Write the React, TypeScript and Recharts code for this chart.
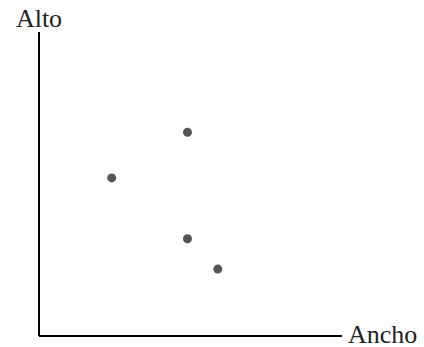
import { ScatterChart, Scatter, XAxis, YAxis, Label } from 'recharts'

// ancho / alto of each point
const anchoValues = [2.4, 4.9, 4.9, 5.9]
const altoValues = [5.2, 6.7, 3.2, 2.2]
const xLabel = 'Ancho'
const yLabel = 'Alto'

const points = anchoValues.map((ancho, i) => ({ ancho, alto: altoValues[i] }))

const fontFamily = '"Liberation Serif", "Times New Roman", serif'

export default function App() {
  return (
    <div style={{ position: 'absolute', left: 0, top: 0, width: 424, height: 347, background: '#fff' }}>
      <ScatterChart width={424} height={347} margin={{ top: 32, right: 82, bottom: 10, left: 38 }}>
        <XAxis
          type="number"
          dataKey="ancho"
          domain={[0, 10]}
          height={1}
          tick={false}
          tickLine={false}
          axisLine={{ stroke: '#000', strokeWidth: 2 }}
        >
          <Label
            content={({ viewBox }: any) => (
              <text
                x={viewBox.x + viewBox.width + 6}
                y={viewBox.y + 7}
                fontFamily={fontFamily}
                fontSize={26}
                fill="#222"
              >
                {xLabel}
              </text>
            )}
          />
        </XAxis>
        <YAxis
          type="number"
          dataKey="alto"
          domain={[0, 10]}
          width={1}
          tick={false}
          tickLine={false}
          axisLine={{ stroke: '#000', strokeWidth: 2 }}
        >
          <Label
            content={({ viewBox }: any) => (
              <text
                x={viewBox.x + viewBox.width}
                y={viewBox.y - 5}
                textAnchor="middle"
                fontFamily={fontFamily}
                fontSize={26}
                fill="#222"
              >
                {yLabel}
              </text>
            )}
          />
        </YAxis>
        <Scatter
          data={points}
          fill="#555"
          isAnimationActive={false}
          shape={(props: any) => <circle cx={props.cx} cy={props.cy} r={4.5} fill="#555" />}
        />
      </ScatterChart>
    </div>
  )
}
